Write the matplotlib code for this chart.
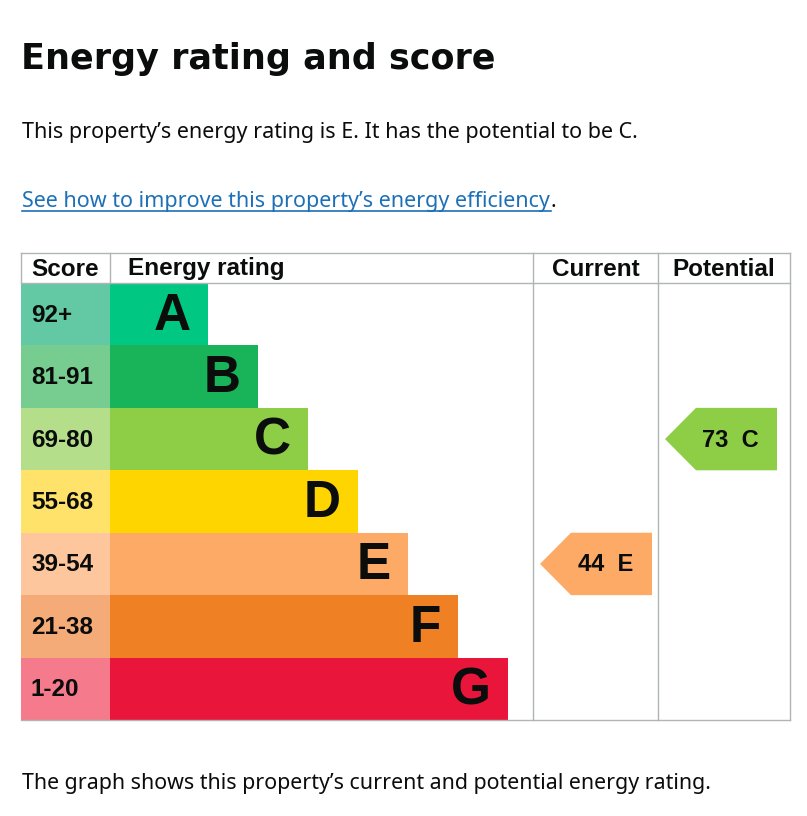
import matplotlib
matplotlib.use('Agg')
import matplotlib.pyplot as plt
from matplotlib.patches import Polygon

# EPC bands
bands = ['A', 'B', 'C', 'D', 'E', 'F', 'G']
score_ranges = ['92+', '81-91', '69-80', '55-68', '39-54', '21-38', '1-20']
range_low = [92, 81, 69, 55, 39, 21, 1]
bar_colours = ['#00c781', '#19b459', '#8dce46', '#ffd500', '#fcaa65', '#ef8023', '#e9153b']
score_colours = ['#63c8a4', '#77cc8f', '#b4de8a', '#ffe26a', '#fec69c', '#f5ab78', '#f47a8c']

current_score = 44
potential_score = 73

title = 'Energy rating and score'
summary = 'This property\u2019s energy rating is E. It has the potential to be C.'
link_text = 'See how to improve this property\u2019s energy efficiency'
footer = 'The graph shows this property\u2019s current and potential energy rating.'

W, H = 807, 816
PAGE_FONT = ['Noto Sans', 'DejaVu Sans']
TITLE_FONT = ['DejaVu Sans']
TABLE_FONT = ['Liberation Sans', 'DejaVu Sans']
GRID = '#b1b4b6'


def band_index(score):
    for i, low in enumerate(range_low):
        if score >= low:
            return i
    return len(range_low) - 1


fig = plt.figure(figsize=(W / 100, H / 100), dpi=100)
ax = fig.add_axes([0, 0, 1, 1])
ax.set_xlim(0, W)
ax.set_ylim(H, 0)
ax.axis('off')

# page text
ax.text(21, 69, title, fontsize=25.2, fontweight='bold', family=TITLE_FONT,
        color='#0b0c0c', va='baseline')
ax.text(22, 138, summary, fontsize=15.5, family=PAGE_FONT, color='#0b0c0c', va='baseline')
ax.text(22, 207, link_text, fontsize=15.5, family=PAGE_FONT, color='#1d70b8', va='baseline')
ax.text(551, 207, '.', fontsize=15.5, family=PAGE_FONT, color='#0b0c0c', va='baseline')
ax.plot([22, 551], [211, 211], color='#1d70b8', lw=1.2)
ax.text(22, 789, footer, fontsize=15.4, family=PAGE_FONT, color='#0b0c0c', va='baseline')

# table geometry
left, score_right, rating_right, current_right, right = 21, 110, 533, 658, 790
head_top, head_bot = 253, 283
row_h = (720 - head_bot) / len(bands)
centres = [head_bot + row_h * (i + 0.5) for i in range(len(bands))]
widths = [98 + 50 * i for i in range(len(bands))]

# grid lines
ax.plot([left, right], [head_top, head_top], color=GRID, lw=1)
ax.plot([left, right], [head_bot, head_bot], color=GRID, lw=1)
ax.plot([left, right], [720, 720], color=GRID, lw=1)
for x in (left, score_right):
    ax.plot([x, x], [head_top, head_bot], color=GRID, lw=1)
for x in (rating_right, current_right, right):
    ax.plot([x, x], [head_top, 720], color=GRID, lw=1)

hdr = dict(fontsize=17.5, fontweight='bold', family=TABLE_FONT, color='#0b0c0c', va='center')
ax.text(31, 269, 'Score', ha='left', **hdr)
ax.text(128, 269, 'Energy rating', ha='left', **hdr)
ax.text((rating_right + current_right) / 2, 269, 'Current', ha='center', **hdr)
ax.text((current_right + right) / 2, 269, 'Potential', ha='center', **hdr)

# score cells and band bars
ax.barh(centres, [score_right - left] * len(bands), height=row_h, left=left,
        color=score_colours, edgecolor='none')
ax.barh(centres, widths, height=row_h, left=score_right, color=bar_colours, edgecolor='none')
for i, band in enumerate(bands):
    ax.text(31, centres[i] + 1, score_ranges[i], fontsize=17.5, fontweight='bold',
            family=TABLE_FONT, color='#0b0c0c', va='center', ha='left')
    ax.text(score_right + widths[i] - 17, centres[i] + 2, band, fontsize=37, fontweight='bold',
            family=TABLE_FONT, color='#0b0c0c', va='center', ha='right')


def arrow(score, x_tip, x_body, x_right):
    i = band_index(score)
    top, bot = centres[i] - row_h / 2, centres[i] + row_h / 2
    pts = [(x_tip, centres[i]), (x_body, top), (x_right, top), (x_right, bot), (x_body, bot)]
    ax.add_patch(Polygon(pts, closed=True, facecolor=bar_colours[i], edgecolor='none'))
    ax.text((x_body + x_right) / 2 - 6, centres[i] + 1, f'{score}  {bands[i]}', fontsize=17,
            fontweight='bold', family=TABLE_FONT, color='#0b0c0c', va='center', ha='center')


arrow(current_score, 540, 571, 652)
arrow(potential_score, 665, 696, 777)

fig.savefig('out.png', dpi=100, facecolor='white')
